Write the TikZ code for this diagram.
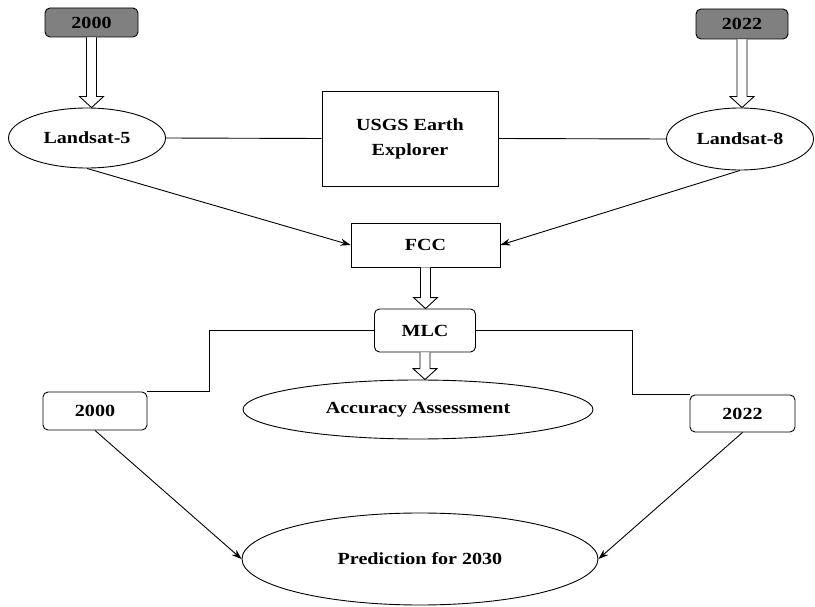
\documentclass[tikz,border=0pt]{standalone}
\usepackage{fontspec}
\setmainfont{Liberation Serif}[FakeStretch=1.18]
\usetikzlibrary{shapes.geometric,arrows.meta,calc}
\definecolor{yeargray}{RGB}{128,128,128}
\tikzset{
  base/.style={draw, line width=0.9pt, inner sep=0pt, align=center,
    font=\fontsize{17}{25}\selectfont\bfseries},
  rbox/.style={base, rectangle},
  rbox2/.style={base, rectangle, rounded corners=5pt},
  yearbox/.style={rbox2, fill=yeargray},
  oval/.style={base, ellipse},
  conn/.style={line width=0.9pt},
  arr/.style={conn, -{Stealth[length=10pt,width=7pt]}},
  hollow/.style={line width=0.9pt, fill=white}
}
\newcommand\hollowarrow[2]{%
  \draw[hollow] let \p1=(#1), \p2=(#2) in
    (\x1-5pt,\y1) -- (\x1-5pt,\y2+11pt) -- (\x1-12pt,\y2+11pt) -- (\x1,\y2)
    -- (\x1+12pt,\y2+11pt) -- (\x1+5pt,\y2+11pt) -- (\x1+5pt,\y1);}
\begin{document}
\begin{tikzpicture}[x=1pt,y=-1pt]
  \useasboundingbox (0,0) rectangle (815,607);
  % nodes
  \node[yearbox, minimum width=93pt, minimum height=29pt] (y2000) at (91.5,22.5) {2000};
  \node[yearbox, minimum width=92pt, minimum height=30pt] (y2022) at (742,24) {2022};
  \node[oval, minimum width=157pt, minimum height=60pt] (l5) at (87,138) {Landsat-5};
  \node[oval, minimum width=147pt, minimum height=62pt] (l8) at (740,139) {Landsat-8};
  \node[rbox, minimum width=176pt, minimum height=95pt] (usgs) at (410,138.5) {USGS Earth\\Explorer};
  \node[rbox, minimum width=149pt, minimum height=44pt] (fcc) at (425.5,245) {FCC};
  \node[rbox2, minimum width=101pt, minimum height=43pt] (mlc) at (425,330.5) {MLC};
  \node[rbox2, minimum width=104pt, minimum height=38pt] (b2000) at (95,411) {2000};
  \node[rbox2, minimum width=105pt, minimum height=37pt] (b2022) at (742.5,413.5) {2022};
  \node[oval, minimum width=350pt, minimum height=59pt] (acc) at (418,409.5) {Accuracy Assessment};
  \node[oval, minimum width=356pt, minimum height=92pt] (pred) at (420,559) {Prediction for 2030};
  \coordinate (lk) at (209,0);
  \coordinate (rk) at (632,0);
  % connectors
  \hollowarrow{y2000.south}{l5.north}
  \hollowarrow{y2022.south}{l8.north}
  \hollowarrow{fcc.south}{mlc.north}
  \hollowarrow{mlc.south}{acc.north}
  \draw[conn] (l5.east) -- (usgs.west);
  \draw[conn] (usgs.east) -- (l8.west);
  \draw[arr] (l5.south) -- (fcc.west);
  \draw[arr] (l8.south) -- (fcc.east);
  \draw[conn] (mlc.west) -| (lk |- b2000.north) -- (b2000.north east);
  \draw[conn] (mlc.east) -| (rk |- b2022.north) -- (b2022.north west);
  \draw[arr] (b2000.south) -- (pred.west);
  \draw[arr] (b2022.south) -- (pred.east);
\end{tikzpicture}
\end{document}
